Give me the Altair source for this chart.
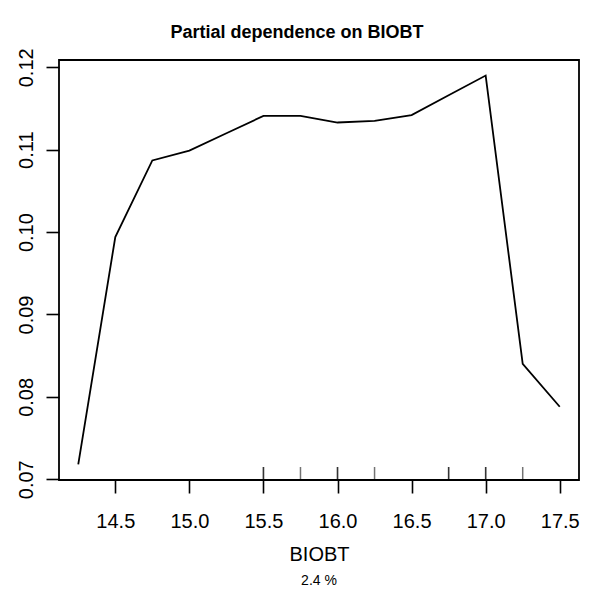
import altair as alt
import pandas as pd

# Partial dependence values
bio_x = [14.25, 14.5, 14.75, 15.0, 15.25, 15.5, 15.75, 16.0, 16.25, 16.5, 16.75, 17.0, 17.25, 17.5]
pd_y = [0.0718, 0.0994, 0.1087, 0.1099, 0.1120, 0.1141, 0.1141, 0.1133, 0.1135, 0.1142, 0.1166, 0.1190, 0.0840, 0.0788]

# rug (deciles of the predictor; repeated values overlap)
rug_x = [15.5, 15.5, 15.75, 16.0, 16.0, 16.25, 16.75, 16.75, 17.0, 17.0, 17.25]

x_ticks = [14.5, 15.0, 15.5, 16.0, 16.5, 17.0, 17.5]
y_ticks = [0.07, 0.08, 0.09, 0.10, 0.11, 0.12]

title_text = "Partial dependence on BIOBT"
x_title = "BIOBT"
sub_text = "2.4 %"

# R-style 4% axis extension
xr = max(bio_x) - min(bio_x)
yr = max(pd_y) - min(pd_y)
x_dom = [min(bio_x) - 0.04 * xr, max(bio_x) + 0.04 * xr]
y_dom = [min(pd_y) - 0.04 * yr, max(pd_y) + 0.04 * yr]

W, H = 520, 420
FONT = "Liberation Sans"

df = pd.DataFrame({"x": bio_x, "y": pd_y})
rug_df = pd.DataFrame({"x": rug_x})
sub_df = pd.DataFrame({"t": [sub_text]})
title_df = pd.DataFrame({"t": [title_text]})

xscale = alt.Scale(domain=x_dom, nice=False, zero=False)
yscale = alt.Scale(domain=y_dom, nice=False, zero=False)

line = alt.Chart(df).mark_line(color="black", strokeWidth=1.8).encode(
    x=alt.X("x:Q", scale=xscale,
            axis=alt.Axis(values=x_ticks, format=".1f", title=x_title,
                          labelFontSize=20, labelFont=FONT, labelColor="black",
                          labelBaseline="alphabetic", labelPadding=34, labelFlush=False,
                          tickSize=13, tickWidth=1.6, tickColor="black",
                          domain=False, grid=False,
                          titleFont=FONT, titleFontSize=20, titleFontWeight="normal",
                          titleColor="black", titleBaseline="alphabetic",
                          titleY=80, titleX=W / 2)),
    y=alt.Y("y:Q", scale=yscale,
            axis=alt.Axis(values=y_ticks, format=".2f", title=None,
                          labelFontSize=20, labelFont=FONT, labelColor="black",
                          labelAngle=270, labelAlign="center", labelBaseline="alphabetic",
                          labelPadding=14, labelFlush=False,
                          tickSize=13, tickWidth=1.6, tickColor="black",
                          domain=False, grid=False)),
)

rug = alt.Chart(rug_df).mark_rule(color="black", strokeWidth=1.5, opacity=0.55).encode(
    x=alt.X("x:Q", scale=xscale),
    y=alt.value(H - 13),
    y2=alt.value(H),
)

sub = alt.Chart(sub_df).mark_text(font=FONT, fontSize=14, color="black",
                                  baseline="alphabetic", align="center").encode(
    text="t:N",
    x=alt.value(W / 2),
    y=alt.value(H + 105),
)

ttl = alt.Chart(title_df).mark_text(font=FONT, fontSize=18, fontWeight="bold", color="black",
                                    baseline="alphabetic", align="center").encode(
    text="t:N",
    x=alt.value(W / 2 - 22),
    y=alt.value(-22),
)

chart = alt.layer(line, rug, sub, ttl).properties(
    width=W, height=H,
    autosize=alt.AutoSizeParams(type="none"),
    padding={"left": 51, "top": 52, "right": 6, "bottom": 110},
).configure(background="white").configure_view(stroke="black", strokeWidth=1.8)

chart.save("out.html", embed_options={"renderer": "svg", "actions": False})
